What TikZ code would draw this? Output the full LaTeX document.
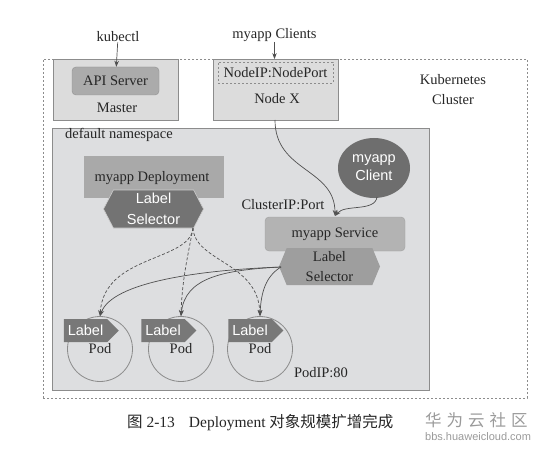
\documentclass[tikz,border=0pt]{standalone}
\usepackage{fontspec}
\setmainfont{Liberation Serif}
\setsansfont{Liberation Sans}
\newfontfamily\cjk{Noto Sans CJK SC}
\usetikzlibrary{shapes.symbols,shapes.geometric,arrows.meta}
\definecolor{boxline}{HTML}{8C8C8C}
\definecolor{lightfill}{HTML}{DCDCDC}
\definecolor{nsfill}{HTML}{DDDEE0}
\definecolor{apifill}{HTML}{ABABAB}
\definecolor{depfill}{HTML}{A9A9A9}
\definecolor{darksel}{HTML}{737373}
\definecolor{clientfill}{HTML}{6E6E6E}
\definecolor{svcfill}{HTML}{B3B3B3}
\definecolor{svcsel}{HTML}{9E9E9E}
\definecolor{tagfill}{HTML}{787878}
\definecolor{linecol}{HTML}{505050}
\definecolor{wmgray}{HTML}{9A9A9A}
\begin{document}
\begin{tikzpicture}[x=1pt,y=-1pt,
  every node/.style={font=\fontsize{14.5}{20}\selectfont, inner sep=0pt, text=black!85},
  frame/.style={draw=boxline, line width=0.8pt},
  lightbox/.style={frame, fill=lightfill},
  dashbox/.style={draw=boxline, line width=0.7pt, dash pattern=on 2pt off 2pt},
  hexsel/.style={shape=signal, signal to=east and west, signal pointer angle=125, align=center},
  podtag/.style={shape=signal, signal to=east, signal pointer angle=90, fill=tagfill, text=white,
     font=\sffamily\fontsize{14.5}{17}\selectfont, minimum width=55pt, minimum height=23pt},
  pod/.style={circle, draw=boxline, line width=0.8pt, minimum size=65pt},
  conn/.style={-{Stealth[length=6pt,width=4.5pt]}, draw=linecol, line width=0.7pt},
  dconn/.style={conn, dash pattern=on 3pt off 2pt}]
\useasboundingbox (0,0) rectangle (547,452);

% cluster
\node[dashbox, minimum width=484pt, minimum height=339pt] (cluster) at (285,228.5) {};
\node[align=center] (k8s) at (453,90) {Kubernetes\\Cluster};

% master
\node[lightbox, minimum width=125pt, minimum height=61pt] (master) at (115.5,90) {};
\node[fill=apifill, draw=apifill!85!black, rounded corners=4pt, minimum width=87pt, minimum height=28pt] (api) at (115.5,81) {API Server};
\node (masterlbl) at (117,108) {Master};
\node (kubectl) at (118,37) {kubectl};
\draw[conn] (kubectl) -- (api);

% node X
\node[lightbox, minimum width=125pt, minimum height=61pt] (nodex) at (275.5,90) {};
\node[dashbox, minimum width=115pt, minimum height=21pt] (nodeport) at (275.5,72.5) {NodeIP:NodePort};
\node (nodexlbl) at (277,99) {Node X};
\node (clients) at (274.5,35) {myapp Clients};
\draw[conn] (clients) -- (nodex.north -| clients);

% namespace
\node[frame, fill=nsfill, minimum width=377pt, minimum height=262pt] (ns) at (240.5,259) {};
\node[anchor=west] (nslbl) at (65,135) {default namespace};

% deployment
\node[fill=depfill, minimum width=140pt, minimum height=42pt] (dep) at (154,177) {};
\node (deplbl) at (152,178) {myapp Deployment};
\node[hexsel, fill=darksel, draw=white!80!black, line width=0.6pt, text=white,
  font=\sffamily\fontsize{14.5}{21}\selectfont, minimum width=100pt, minimum height=38pt] (depsel) at (153.5,209) {Label\\Selector};

% client
\node[ellipse, fill=clientfill, minimum width=72pt, minimum height=60pt, align=center, text=white,
  font=\sffamily\fontsize{14.5}{18}\selectfont] (client) at (374,168) {myapp\\Client};

% service
\node (clusterip) at (283,205) {ClusterIP:Port};
\node[fill=svcfill, draw=svcfill!90!black, rounded corners=4pt, minimum width=140pt, minimum height=34pt] (svc) at (335,234) {myapp Service};
\node[hexsel, fill=svcsel, signal pointer angle=135, minimum width=101pt, minimum height=37pt,
  font=\fontsize{14.5}{20}\selectfont] (svcsel) at (329.5,266.5) {Label\\Selector};

% pods
\node[pod] (pod1) at (100,349) {Pod};
\node[pod] (pod2) at (181,349) {Pod};
\node[pod] (pod3) at (260,349) {Pod};
\node[podtag] (tag1) at (85.5,330.5) {Label};
\node[podtag] (tag2) at (163,330.5) {Label};
\node[podtag] (tag3) at (250,330.5) {Label};
\node (podip) at (321,373) {PodIP:80};

% connectors
\coordinate (svctop) at (335,216);
\coordinate (nxbot) at (275,120);
\coordinate (clbot) at (377,197);
\draw[conn] (nxbot) .. controls (275,172) and (335,168) .. (svctop);
\draw[conn] (clbot) .. controls (375,212) and (345,204) .. (svctop);

\coordinate (dsrc) at (193,228);
\draw[dconn] (dsrc) .. controls (190,262) and (104,254) .. (pod1.north);
\draw[dconn] (dsrc) .. controls (188,255) and (182,280) .. (pod2.north);
\draw[dconn] (dsrc) .. controls (195,262) and (258,262) .. (pod3.north);

\coordinate (ssrc) at (281,267);
\draw[conn] (ssrc) .. controls (200,270) and (112,282) .. (pod1.north);
\draw[conn] (ssrc) .. controls (222,270) and (185,278) .. (pod2.north);
\draw[conn] (ssrc) .. controls (266,276) and (261,292) .. (pod3.north);

% caption
\node[anchor=west, font=\fontsize{15.5}{18}\selectfont] (caption) at (127,423)
  {{\cjk 图}~2-13\hspace{14pt}Deployment {\cjk 对象规模扩增完成}};
\node[anchor=west, text=wmgray, font=\cjk\fontsize{16.5}{18}\selectfont] (hw) at (425,420)
  {华\hspace{5pt}为\hspace{5pt}云\hspace{5pt}社\hspace{5pt}区};
\node[anchor=west, text=wmgray, font=\sffamily\fontsize{11}{13}\selectfont] (hwurl) at (425,437) {bbs.huaweicloud.com};
\end{tikzpicture}
\end{document}
